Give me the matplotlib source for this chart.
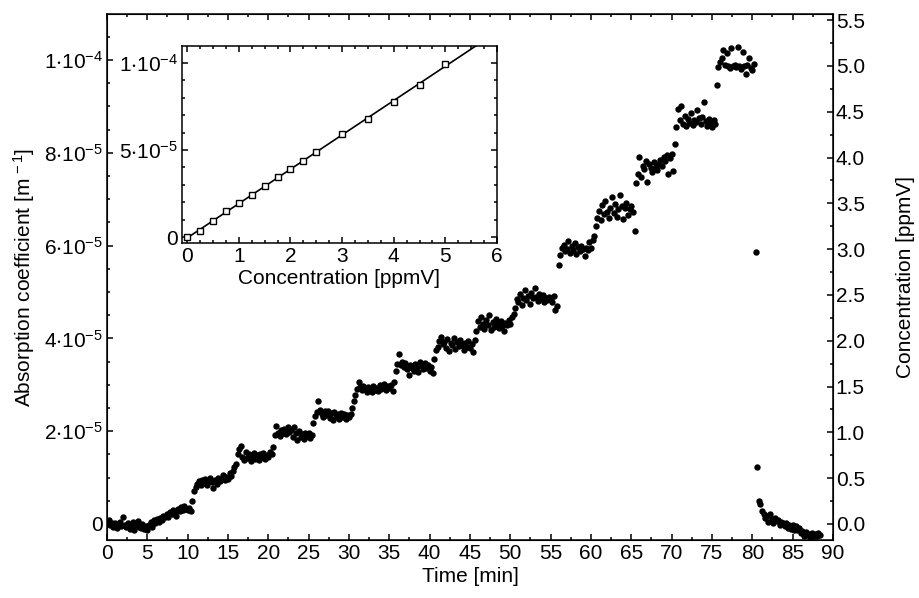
import numpy as np
import matplotlib
matplotlib.use("Agg")
import matplotlib.pyplot as plt
from matplotlib.ticker import MultipleLocator, FixedLocator, FixedFormatter

plt.rcParams['font.family'] = ['Liberation Sans', 'DejaVu Sans']
plt.rcParams['mathtext.fontset'] = 'custom'
plt.rcParams['mathtext.rm'] = 'Liberation Sans'
plt.rcParams['mathtext.it'] = 'Liberation Sans:italic'
plt.rcParams['mathtext.default'] = 'regular'

# Sampling interval of the time series [min]
dt = 0.2

# Absorption coefficient, in units of 1e-5 m^-1, one value per sample
absorption = [
    # 0 - 5 min
    0.05, 0.08, -0.02, 0.03, -0.06, 0.02, -0.08, 0.00, 0.05, -0.04, 0.15, -0.03, -0.07,
    0.02, -0.10, -0.05, 0.04, -0.12, -0.02, 0.06, -0.06, -0.09, 0.01, -0.11, -0.04,
    # 5 - 10 min
    -0.13, -0.02, 0.04, -0.06, 0.08, 0.02, 0.10, 0.05, 0.12, 0.08, 0.18, 0.14, 0.22,
    0.16, 0.26, 0.21, 0.30, 0.24, 0.18, 0.33, 0.28, 0.36, 0.31, 0.38, 0.33,
    # 10 - 15 min
    0.30, 0.35, 0.29, 0.50, 0.72, 0.80, 0.86, 0.92, 0.83, 0.95, 0.88, 0.97, 0.85,
    0.93, 0.99, 0.90, 0.78, 0.94, 0.86, 1.00, 0.92, 0.97, 1.05, 0.95, 1.02,
    # 15 - 20 min
    0.98, 1.10, 1.03, 1.15, 1.22, 1.30, 1.50, 1.62, 1.68, 1.45, 1.38, 1.55, 1.42,
    1.50, 1.36, 1.47, 1.53, 1.40, 1.48, 1.37, 1.50, 1.44, 1.52, 1.41, 1.49,
    # 20 - 25 min
    1.45, 1.55, 1.50, 1.66, 1.92, 2.12, 1.95, 1.90, 2.02, 1.96, 2.05, 1.93, 2.08,
    1.98, 2.03, 1.88, 2.10, 1.95, 1.82, 2.00, 1.87, 1.93, 1.84, 1.95, 1.89,
    # 25 - 30 min
    1.97, 1.85, 1.92, 2.18, 2.32, 2.42, 2.66, 2.45, 2.38, 2.30, 2.43, 2.35, 2.44,
    2.28, 2.40, 2.25, 2.42, 2.33, 2.37, 2.26, 2.39, 2.30, 2.36, 2.27, 2.34,
    # 30 - 35 min
    2.30, 2.36, 2.50, 2.66, 2.78, 2.90, 3.06, 2.95, 2.88, 2.98, 2.92, 2.85, 2.96,
    2.90, 2.84, 2.97, 2.88, 2.93, 2.86, 2.99, 2.91, 2.95, 3.02, 2.89, 2.97,
    # 35 - 40 min
    2.92, 3.00, 2.86, 3.05, 3.30, 3.45, 3.66, 3.42, 3.50, 3.38, 3.47, 3.35, 3.22,
    3.43, 3.36, 3.30, 3.45, 3.38, 3.28, 3.50, 3.40, 3.33, 3.46, 3.36, 3.42,
    # 40 - 45 min
    3.30, 3.38, 3.26, 3.55, 3.76, 3.82, 3.95, 4.04, 3.88, 3.92, 3.80, 3.98, 3.72,
    3.90, 3.85, 4.00, 3.78, 3.93, 3.83, 3.96, 3.86, 3.74, 3.90, 3.82, 3.94,
    # 45 - 50 min
    3.80, 3.88, 3.70, 3.96, 4.15, 4.38, 4.25, 4.45, 4.32, 4.20, 4.40, 4.28, 4.50,
    4.18, 4.35, 4.24, 4.42, 4.30, 4.22, 4.37, 4.26, 4.15, 4.33, 4.28, 4.40,
    # 50 - 55 min
    4.30, 4.45, 4.52, 4.65, 4.85, 4.78, 4.95, 4.72, 4.88, 5.05, 4.82, 4.92, 4.75,
    4.98, 4.86, 5.08, 4.90, 4.80, 4.96, 4.84, 4.93, 4.78, 4.88, 4.83, 4.90,
    # 55 - 60 min
    4.86, 4.78, 4.92, 4.62, 4.70, 5.58, 5.80, 5.95, 6.02, 5.88, 5.92, 6.10, 5.85,
    5.98, 5.90, 6.05, 5.82, 5.96, 5.88, 6.00, 5.92, 5.78, 5.95, 5.90, 6.08,
    # 60 - 65 min
    5.95, 6.12, 6.20, 6.42, 6.60, 6.75, 6.55, 6.88, 6.68, 6.95, 6.72, 6.60, 6.82,
    7.05, 6.70, 6.90, 6.62, 6.78, 7.10, 6.85, 6.58, 6.80, 6.92, 6.65, 6.78,
    # 65 - 70 min
    6.85, 6.72, 6.32, 7.35, 7.55, 7.90, 7.48, 7.72, 7.65, 7.82, 7.38, 7.75, 7.68,
    7.58, 7.80, 7.70, 7.62, 7.76, 7.85, 7.72, 7.90, 7.82, 7.95, 7.55, 7.88,
    # 70 - 75 min
    7.98, 7.60, 8.18, 8.55, 8.95, 8.70, 9.00, 8.62, 8.80, 8.58, 8.72, 8.65, 8.85,
    8.60, 8.70, 8.66, 8.92, 8.74, 8.62, 8.78, 9.10, 8.68, 8.58, 8.72, 8.64,
    # 75 - 80 min
    8.55, 8.70, 8.62, 9.45, 9.85, 9.95, 10.05, 10.22, 9.90, 10.15, 9.88, 9.82, 10.25,
    9.86, 9.90, 9.84, 10.28, 9.88, 9.80, 10.18, 9.86, 9.70, 9.90, 10.05, 9.82,
    # 80 - 85 min
    9.78, 9.92, 5.86, 1.22, 0.50, 0.44, 0.28, 0.22, 0.12, 0.18, 0.05, 0.22, 0.10,
    0.02, 0.12, 0.06, 0.08, -0.02, 0.05, 0.02, -0.04, 0.03, -0.08, -0.02, -0.10,
    # 85 - 88.4 min
    -0.02, -0.12, -0.05, -0.14, -0.08, -0.20, -0.16, -0.26, -0.18, -0.24, -0.21, -0.28,
    -0.19, -0.25, -0.22, -0.26, -0.20, -0.24,
]

# Calibration (inset): concentration [ppmV] vs absorption [1e-5 m^-1]
calib_conc = [0, 0.25, 0.5, 0.75, 1.0, 1.25, 1.5, 1.75, 2.0, 2.25, 2.5, 3.0, 3.5, 4.0, 4.5, 5.0]
calib_abs = [0.0, 0.33, 0.90, 1.50, 1.98, 2.40, 2.96, 3.44, 3.90, 4.35, 4.87, 5.92, 6.81, 7.75, 8.75, 9.96]

# 1e-5 m^-1 per ppmV, links the two y axes
abs_per_ppm = 1.974

time = np.arange(len(absorption)) * dt
absorption = np.array(absorption) * 1e-5

fig = plt.figure(figsize=(9.19, 5.98), dpi=100)
ax = fig.add_axes([0.1164, 0.097, 0.79, 0.8796])

ax.plot(time, absorption, 'o', color='black', ms=4.6, mec='black', mew=0)

ylo, yhi = -0.345e-5, 10.99e-5
ax.set_xlim(0, 90)
ax.set_ylim(ylo, yhi)

ax.xaxis.set_major_locator(MultipleLocator(5))
ax.xaxis.set_minor_locator(MultipleLocator(2.5))
left_ticks = [0, 2e-5, 4e-5, 6e-5, 8e-5, 1e-4]
left_labels = ['0', r'$2{\cdot}10^{-5}$', r'$4{\cdot}10^{-5}$', r'$6{\cdot}10^{-5}$',
               r'$8{\cdot}10^{-5}$', r'$1{\cdot}10^{-4}$']
ax.yaxis.set_major_locator(FixedLocator(left_ticks))
ax.yaxis.set_major_formatter(FixedFormatter(left_labels))
ax.yaxis.set_minor_locator(MultipleLocator(5e-6))

ax.tick_params(which='both', direction='in', top=True, right=False, width=1.1, labelsize=15)
ax.tick_params(which='major', length=4.5)
ax.tick_params(which='minor', length=2.5)
ax.tick_params(axis='x', pad=3)
ax.tick_params(axis='y', pad=3)
for s in ax.spines.values():
    s.set_linewidth(1.1)

ax.set_xlabel('Time [min]', fontsize=15, labelpad=3)
ax.set_ylabel(r'Absorption coefficient [m$^{\,-1}$]', fontsize=15, labelpad=5)

# Right axis: concentration
ax2 = ax.twinx()
ax2.set_ylim(ylo / 1e-5 / abs_per_ppm, yhi / 1e-5 / abs_per_ppm)
ax2.yaxis.set_major_locator(MultipleLocator(0.5))
ax2.yaxis.set_minor_locator(MultipleLocator(0.25))
ax2.yaxis.set_major_formatter(plt.FormatStrFormatter('%.1f'))
ax2.tick_params(which='both', direction='in', width=1.1, labelsize=15, pad=2)
ax2.tick_params(which='major', length=4.5)
ax2.tick_params(which='minor', length=2.5)
ax2.set_ylabel('Concentration [ppmV]', fontsize=15, labelpad=22)

# Inset: calibration
axin = fig.add_axes([0.198, 0.5936, 0.3428, 0.3295])
cc = np.array(calib_conc)
ca = np.array(calib_abs) * 1e-5
p = np.polyfit(cc, ca, 1)
xfit = np.array([0, 6])
axin.plot(xfit, np.polyval(p, xfit), color='black', lw=1.2)
axin.plot(cc, ca, 's', ms=5, mfc='white', mec='black', mew=1.0)
axin.set_xlim(-0.1, 6)
axin.set_ylim(-0.34e-5, 10.98e-5)
axin.xaxis.set_major_locator(MultipleLocator(1))
axin.xaxis.set_minor_locator(MultipleLocator(0.25))
axin.yaxis.set_major_locator(FixedLocator([0, 5e-5, 1e-4]))
axin.yaxis.set_major_formatter(FixedFormatter(['0', r'$5{\cdot}10^{-5}$', r'$1{\cdot}10^{-4}$']))
axin.yaxis.set_minor_locator(MultipleLocator(1e-5))
axin.tick_params(which='both', direction='in', top=True, right=True, width=1.1, labelsize=15)
axin.tick_params(which='major', length=4.5, pad=3)
axin.tick_params(which='minor', length=2.5)
for s in axin.spines.values():
    s.set_linewidth(1.1)
axin.set_xlabel('Concentration [ppmV]', fontsize=15, labelpad=2)

fig.savefig('out.png', dpi=100)
